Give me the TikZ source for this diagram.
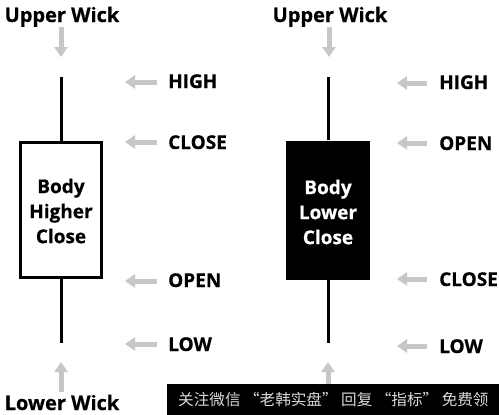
\documentclass[tikz,border=0pt]{standalone}
\usepackage{fontspec}
\setmainfont{Open Sans}[BoldFeatures={FakeBold=0.6}]
\newfontfamily\cjk{Noto Sans CJK SC}
\usetikzlibrary{arrows.meta}
\tikzset{
  lbl/.style={font=\fontsize{19}{22}\selectfont\bfseries, inner sep=0pt, anchor=base west},
  wicklbl/.style={font=\fontsize{20}{22}\selectfont\bfseries, inner sep=0pt, anchor=base},
  bodytxt/.style={font=\fontsize{19}{25}\selectfont\bfseries, align=center, inner sep=0pt},
  wick/.style={line width=3pt},
  garrow/.style={draw=black!22, line width=5pt, -{Triangle[length=10pt,width=13pt]}},
}
\begin{document}
\begin{tikzpicture}[x=1pt,y=-1pt]
\useasboundingbox (0,0) rectangle (499,415);
\fill[white] (0,0) rectangle (499,415);
% left candle
\node[draw, line width=3pt, minimum width=81pt, minimum height=135pt, inner sep=0pt] (bodyL) at (61,209.5) {};
\node[bodytxt] (txtL) at (61,211) {Body\\Higher\\Close};
\coordinate (hiL) at (61,77);
\coordinate (loL) at (61,343);
\draw[wick] (bodyL.north) -- (hiL);
\draw[wick] (bodyL.south) -- (loL);
% right candle
\node[fill=black, minimum width=84pt, minimum height=139pt, inner sep=0pt] (bodyR) at (328,210) {};
\node[bodytxt, text=white] (txtR) at (328,212) {Body\\Lower\\Close};
\coordinate (hiR) at (328,77);
\coordinate (loR) at (328,343);
\draw[wick] (bodyR.north) -- (hiR);
\draw[wick] (bodyR.south) -- (loR);
% wick labels
\node[wicklbl] (uwL) at (62,22) {Upper Wick};
\node[wicklbl] (uwR) at (330,22) {Upper Wick};
\node[wicklbl] (lwL) at (62,410) {Lower Wick};
\coordinate (uwLa) at (61,27); \coordinate (uwLb) at (61,57);
\coordinate (uwRa) at (329,27); \coordinate (uwRb) at (329,57);
\coordinate (lwLa) at (61,392); \coordinate (lwLb) at (61,362);
\coordinate (lwRa) at (328,392); \coordinate (lwRb) at (328,362);
\draw[garrow] (uwLa) -- (uwLb);
\draw[garrow] (uwRa) -- (uwRb);
\draw[garrow] (lwLa) -- (lwLb);
\draw[garrow] (lwRa) -- (lwRb);
% left labels
\node[lbl] (highL) at (168,88) {HIGH};
\node[lbl] (closeL) at (168,149) {CLOSE};
\node[lbl] (openL) at (168,287) {OPEN};
\node[lbl] (lowL) at (168,351) {LOW};
\coordinate (a1) at (157,82); \coordinate (b1) at (125,82);
\coordinate (a2) at (157,142); \coordinate (b2) at (125,142);
\coordinate (a3) at (157,281); \coordinate (b3) at (125,281);
\coordinate (a4) at (157,344); \coordinate (b4) at (125,344);
\draw[garrow] (a1) -- (b1);
\draw[garrow] (a2) -- (b2);
\draw[garrow] (a3) -- (b3);
\draw[garrow] (a4) -- (b4);
% right labels
\node[lbl] (highR) at (439,89) {HIGH};
\node[lbl] (openR) at (439,150) {OPEN};
\node[lbl] (closeR) at (439,286) {CLOSE};
\node[lbl] (lowR) at (439,353) {LOW};
\coordinate (c1) at (427,83); \coordinate (d1) at (397,83);
\coordinate (c2) at (427,143); \coordinate (d2) at (397,143);
\coordinate (c3) at (427,279); \coordinate (d3) at (397,279);
\coordinate (c4) at (427,346); \coordinate (d4) at (397,346);
\draw[garrow] (c1) -- (d1);
\draw[garrow] (c2) -- (d2);
\draw[garrow] (c3) -- (d3);
\draw[garrow] (c4) -- (d4);
% watermark banner
\node[fill=black, minimum width=332pt, minimum height=31pt, inner sep=0pt, anchor=north west] (banner) at (167,384) {};
\node[font=\cjk\fontsize{15.6}{15.6}\selectfont, text=black!15, inner sep=0pt, anchor=west] (wm) at (178,400) {关注微信 “老韩实盘” 回复 “指标” 免费领};
\end{tikzpicture}
\end{document}
